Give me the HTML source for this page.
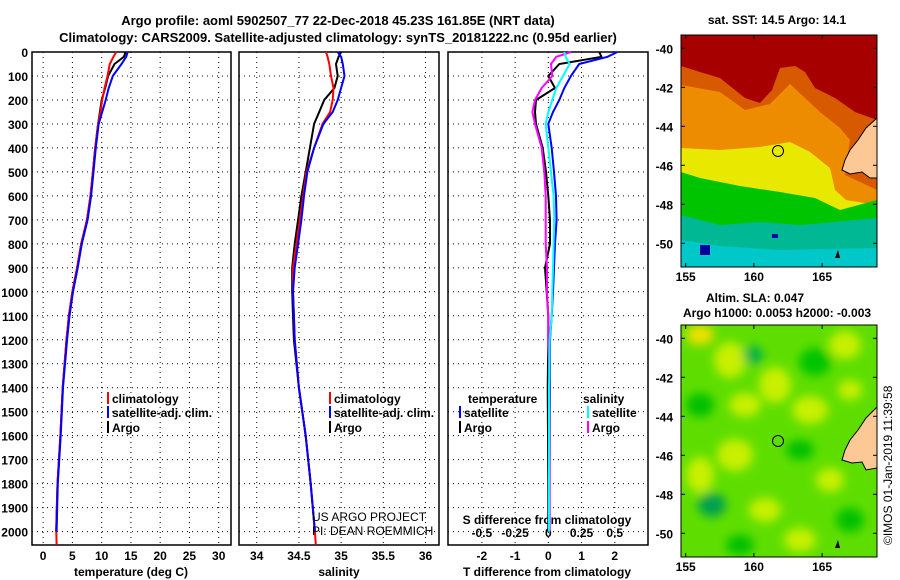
<!DOCTYPE html>
<html><head><meta charset="utf-8"><style>
body{margin:0;background:#fff;}
svg{display:block;font-family:"Liberation Sans",sans-serif;}
.b{font-weight:bold;font-size:13px;}
.t{font-weight:bold;font-size:12px;}
</style></head><body>
<svg id="c" width="900" height="580" viewBox="0 0 900 580">
<defs>
<filter id="bl" x="-30%" y="-30%" width="160%" height="160%"><feGaussianBlur stdDeviation="5"/></filter>
<clipPath id="m1"><rect x="681" y="35" width="196" height="232"/></clipPath>
<clipPath id="m2"><rect x="681" y="325" width="196" height="232"/></clipPath>
</defs>
<text x="338" y="25" text-anchor="middle" class="b" font-size="14">Argo profile: aoml 5902507_77 22-Dec-2018 45.23S 161.85E (NRT data)</text>
<text x="338" y="42" text-anchor="middle" class="b" font-size="14">Climatology: CARS2009. Satellite-adjusted climatology: synTS_20181222.nc (0.95d earlier)</text>

<!-- top map -->
<g clip-path="url(#m1)">
<rect x="681" y="35" width="196" height="232" fill="#a60000"/>
<polygon points="681,66 700,72 720,78 745,98 760,103 772,90 780,68 795,66 805,72 815,88 835,98 855,112 877,120 877,267 681,267" fill="#d85a00"/>
<polygon points="681,85 720,92 745,110 770,104 790,84 805,98 820,112 840,128 850,140 845,175 877,190 877,267 681,267" fill="#ee8c00"/>
<polygon points="681,148 720,150 760,147 790,142 810,152 830,168 835,190 846,200 877,205 877,267 681,267" fill="#e8e800"/>
<polygon points="681,172 700,178 740,186 780,192 815,198 840,210 877,200 877,267 681,267" fill="#00c400"/>
<polygon points="681,215 720,225 760,222 800,225 877,218 877,267 681,267" fill="#00b894"/>
<polygon points="681,240 720,246 780,250 877,248 877,267 681,267" fill="#00c8c8"/>
<rect x="700" y="245" width="10" height="10" fill="#0000a0"/>
<rect x="772" y="234" width="6" height="4" fill="#0000a0"/>
<polygon points="877,118 866,128 858,140 850,150 845,160 842,170 850,174 862,172 870,178 877,178" fill="#fcc896" stroke="#000"/>
<polygon points="835,258 838,250 840,258" fill="#000"/>
</g>
<rect x="681" y="35" width="196" height="232" fill="none" stroke="#000"/>
<circle cx="778" cy="151" r="5.5" fill="none" stroke="#000"/>
<text x="777" y="24" text-anchor="middle" class="t">sat. SST: 14.5 Argo: 14.1</text>

<!-- bottom map -->
<g clip-path="url(#m2)">
<rect x="681" y="325" width="196" height="232" fill="#5ede00"/>
<g filter="url(#bl)">
<ellipse cx="700" cy="335" rx="14" ry="10" fill="#f0e000"/>
<ellipse cx="730" cy="360" rx="16" ry="18" fill="#c8f000"/>
<ellipse cx="753" cy="355" rx="10" ry="9" fill="#00b050"/>
<ellipse cx="775" cy="385" rx="16" ry="18" fill="#c8f000"/>
<ellipse cx="815" cy="362" rx="16" ry="14" fill="#00c400"/>
<ellipse cx="845" cy="345" rx="16" ry="14" fill="#c8f000"/>
<ellipse cx="700" cy="405" rx="14" ry="12" fill="#00c000"/>
<ellipse cx="745" cy="405" rx="16" ry="12" fill="#c8f000"/>
<ellipse cx="810" cy="410" rx="18" ry="14" fill="#c8f000"/>
<ellipse cx="850" cy="390" rx="12" ry="10" fill="#c8f000"/>
<ellipse cx="735" cy="455" rx="18" ry="16" fill="#c8f000"/>
<ellipse cx="800" cy="450" rx="14" ry="10" fill="#00c000"/>
<ellipse cx="700" cy="475" rx="14" ry="18" fill="#c8f000"/>
<ellipse cx="712" cy="505" rx="14" ry="12" fill="#00a050"/>
<ellipse cx="765" cy="510" rx="16" ry="12" fill="#c8f000"/>
<ellipse cx="800" cy="540" rx="16" ry="12" fill="#c8f000"/>
<ellipse cx="850" cy="520" rx="14" ry="12" fill="#00c000"/>
<ellipse cx="830" cy="480" rx="14" ry="12" fill="#c8f000"/>
<ellipse cx="740" cy="545" rx="14" ry="10" fill="#00c000"/>
</g>
<polygon points="877,407 866,418 858,430 850,440 845,450 842,460 852,463 862,462 866,470 877,468" fill="#fcc896" stroke="#000"/>
<polygon points="835,548 838,540 840,548" fill="#000"/>
</g>
<rect x="681" y="325" width="196" height="232" fill="none" stroke="#000"/>
<circle cx="778" cy="441" r="5.5" fill="none" stroke="#000"/>
<text x="755" y="302" text-anchor="middle" class="t">Altim. SLA: 0.047</text>
<text x="777" y="317" text-anchor="middle" class="t">Argo h1000: 0.0053 h2000: -0.003</text>
<text transform="translate(892,545) rotate(-90)" font-size="12">©IMOS 01-Jan-2019 11:39:58</text>
</svg>
<script>
// depth levels (m) shared by profiles
const depths=[0,20,50,100,150,200,250,300,400,500,600,700,800,900,1000,1100,1200,1400,1600,1800,2000];
const depthsClim=[0,20,50,100,150,200,250,300,400,500,600,700,800,900,1000,1100,1200,1400,1600,1800,2000,2055];
const tClim=[12.5,12.0,11.4,11.0,10.5,10.1,9.8,9.4,8.9,8.5,8.1,7.5,6.5,5.8,5.0,4.4,4.0,3.34,2.96,2.45,2.25,2.3];
const tSat=[14.45,14.2,13.4,11.9,11.2,10.7,10.1,9.5,9.0,8.6,8.2,7.6,6.6,5.9,5.1,4.5,4.1,3.4,3.0,2.5,2.3];
const tArgo=[14.1,13.8,12.2,11.1,10.6,10.0,9.7,9.4,8.9,8.5,8.1,7.5,6.5,5.8,5.0,4.4,4.0,3.34,2.96,2.45,2.22];
const sClim=[34.82,34.84,34.86,34.88,34.91,34.90,34.87,34.78,34.68,34.59,34.55,34.51,34.47,34.43,34.43,34.44,34.45,34.5,34.58,34.64,34.69,34.7];
const sSat=[34.96,35.0,35.02,35.04,35.0,34.96,34.9,34.79,34.68,34.6,34.56,34.53,34.49,34.45,34.43,34.44,34.45,34.5,34.58,34.64,34.69];
const sArgo=[35.0,34.97,34.94,34.96,34.92,34.8,34.74,34.68,34.63,34.58,34.53,34.49,34.45,34.42,34.42,34.43,34.44,34.5,34.58,34.64,34.69];
const dTsat=[2.08,1.78,0.93,0.68,0.48,0.33,0.14,0.0,0.1,0.17,0.23,0.25,0.2,0.17,0.14,0.1,0.05,0.04,0.03,0.02,0.01];
const dTargo=[1.53,1.6,0.33,0.0,0.2,-0.37,-0.4,-0.37,-0.17,-0.07,0.0,0.05,0.05,-0.1,-0.05,0.0,0.0,-0.02,-0.01,0.0,0.0];
const dSsat=[0.12,0.13,0.16,0.11,0.06,0.03,0.0,-0.02,0.0,0.02,0.04,0.045,0.04,0.035,0.03,0.025,0.01,0.005,0.005,0.005,0.005];
const dSargo=[0.17,0.06,0.02,0.03,-0.05,-0.1,-0.12,-0.1,-0.05,-0.03,-0.02,-0.02,-0.02,-0.01,-0.01,0.0,0.0,0.01,0.01,0.01,0.01];
const depthTicks=[0,100,200,300,400,500,600,700,800,900,1000,1100,1200,1300,1400,1500,1600,1700,1800,1900,2000];
const tTicks=[0,5,10,15,20,25,30];
const sTicks=[34,34.5,35,35.5,36];
const dTTicks=[-2,-1,0,1,2];
const dSTicks=[-0.5,-0.25,0,0.25,0.5];
const latTicks=[-40,-42,-44,-46,-48,-50];
const lonTicks=[155,160,165];

const NS='http://www.w3.org/2000/svg', svg=document.getElementById('c');
function el(t,a,p){const e=document.createElementNS(NS,t);for(const k in a)e.setAttribute(k,a[k]);(p||svg).appendChild(e);return e;}
const Y0=52,YB=545,yD=d=>Y0+d*0.2398;
const panels=[
 {x0:32,x1:231,lo:-1.9,hi:32.1,ticks:tTicks,name:'temperature'},
 {x0:239,x1:439,lo:33.79,hi:36.16,ticks:sTicks,name:'salinity'},
 {x0:448,x1:648,lo:-3.02,hi:3.0,ticks:dTTicks,name:'difference'}];
panels.forEach(p=>{p.f=v=>p.x0+(v-p.lo)/(p.hi-p.lo)*(p.x1-p.x0);});
const fS=v=>panels[2].f(v*4);

panels.forEach((p,i)=>{
 const g=el('g',{});
 
 
 depthTicks.forEach(d=>{const l=el('line',{x1:p.x0,x2:p.x1,y1:yD(d),y2:yD(d),stroke:'#000','stroke-dasharray':'1 4'},g);
  });
 p.ticks.forEach(v=>{const x=p.f(v);const l=el('line',{x1:x,x2:x,y1:Y0,y2:YB,stroke:'#000','stroke-dasharray':'1 4'},g);
  
  const t=el('text',{x:x,y:560,'text-anchor':'middle',class:'t'},g);t.textContent=String(v);
  });
 const r=el('rect',{x:p.x0,y:Y0,width:p.x1-p.x0,height:YB-Y0,fill:'none',stroke:'#000','stroke-width':1.5},g);
 
});
depthTicks.forEach(d=>{const t=el('text',{x:28,y:yD(d)+5,'text-anchor':'end',class:'t'});t.textContent=String(d);
 });
dSTicks.forEach(v=>{const t=el('text',{x:fS(v),y:537,'text-anchor':'middle',class:'t'});t.textContent=String(v);
 });
const st=el('text',{x:547,y:524,'text-anchor':'middle',class:'t'});st.textContent='S difference from climatology';

[['temperature (deg C)',131],['salinity',339],['T difference from climatology',547]].forEach(([s,x])=>{
 const t=el('text',{x:x,y:576,'text-anchor':'middle',class:'t'});t.textContent=s;
 });

function line(vals,dep,fx,col,name){
 let pts=[];vals.forEach((v,i)=>pts.push(fx(v).toFixed(1)+','+yD(dep[i]).toFixed(1)));
 const l=el('polyline',{points:pts.join(' '),fill:'none',stroke:col,'stroke-width':2});
 
}
const fT=panels[0].f,fSal=panels[1].f,fD=panels[2].f;
line(tArgo,depths,fT,'#000','temp-argo-line');
line(tClim,depthsClim,fT,'#f00','temp-climatology-line');
line(tSat,depths,fT,'#00f','temp-satellite-line');
line(sArgo,depths,fSal,'#000','sal-argo-line');
line(sClim,depthsClim,fSal,'#f00','sal-climatology-line');
line(sSat,depths,fSal,'#00f','sal-satellite-line');
line(dTargo,depths,fD,'#000','tdiff-argo-line');
line(dSargo,depths,fS,'#f0f','sdiff-argo-line');
line(dTsat,depths,fD,'#00f','tdiff-satellite-line');
line(dSsat,depths,fS,'#0ff','sdiff-satellite-line');

function leg(x,y,col,txt){const g=el('g',{});
 
 el('line',{x1:x,x2:x,y1:y-11,y2:y+1,stroke:col,'stroke-width':2},g);
 const t=el('text',{x:x+4,y:y,class:'t'},g);t.textContent=txt;}
leg(108,403,'#f00','climatology');leg(108,417,'#00f','satellite-adj. clim.');leg(108,432,'#000','Argo');
leg(330,403,'#f00','climatology');leg(330,417,'#00f','satellite-adj. clim.');leg(330,432,'#000','Argo');
leg(460,417,'#00f','satellite');leg(460,432,'#000','Argo');
leg(588,417,'#0ff','satellite');leg(588,432,'#f0f','Argo');
[['temperature',468],['salinity',583]].forEach(([s,x])=>{const t=el('text',{x:x,y:403,class:'t'});t.textContent=s;
 });
const c1=el('text',{x:312,y:521,'font-size':12});c1.textContent='US ARGO PROJECT';

const c2=el('text',{x:312,y:535,'font-size':12});c2.textContent='PI: DEAN ROEMMICH';


[[35,267,48.3],[325,557,338.3]].forEach(([top,bot,lat40])=>{
 const fy=l=>lat40+(-40-l)*19.5, fx=o=>685.7+(o-155)*13.64;
 latTicks.forEach(l=>{const y=fy(l);
  el('line',{x1:681,x2:685,y1:y,y2:y,stroke:'#000'});el('line',{x1:873,x2:877,y1:y,y2:y,stroke:'#000'});
  const t=el('text',{x:673,y:y+5,'text-anchor':'end',class:'t'});t.textContent=String(l);
  });
 lonTicks.forEach(o=>{const x=fx(o);
  el('line',{x1:x,x2:x,y1:top,y2:top+4,stroke:'#000'});el('line',{x1:x,x2:x,y1:bot-4,y2:bot,stroke:'#000'});
  const t=el('text',{x:x,y:bot+14,'text-anchor':'middle',class:'t'});t.textContent=String(o);
  });
});
</script>
</body></html>
